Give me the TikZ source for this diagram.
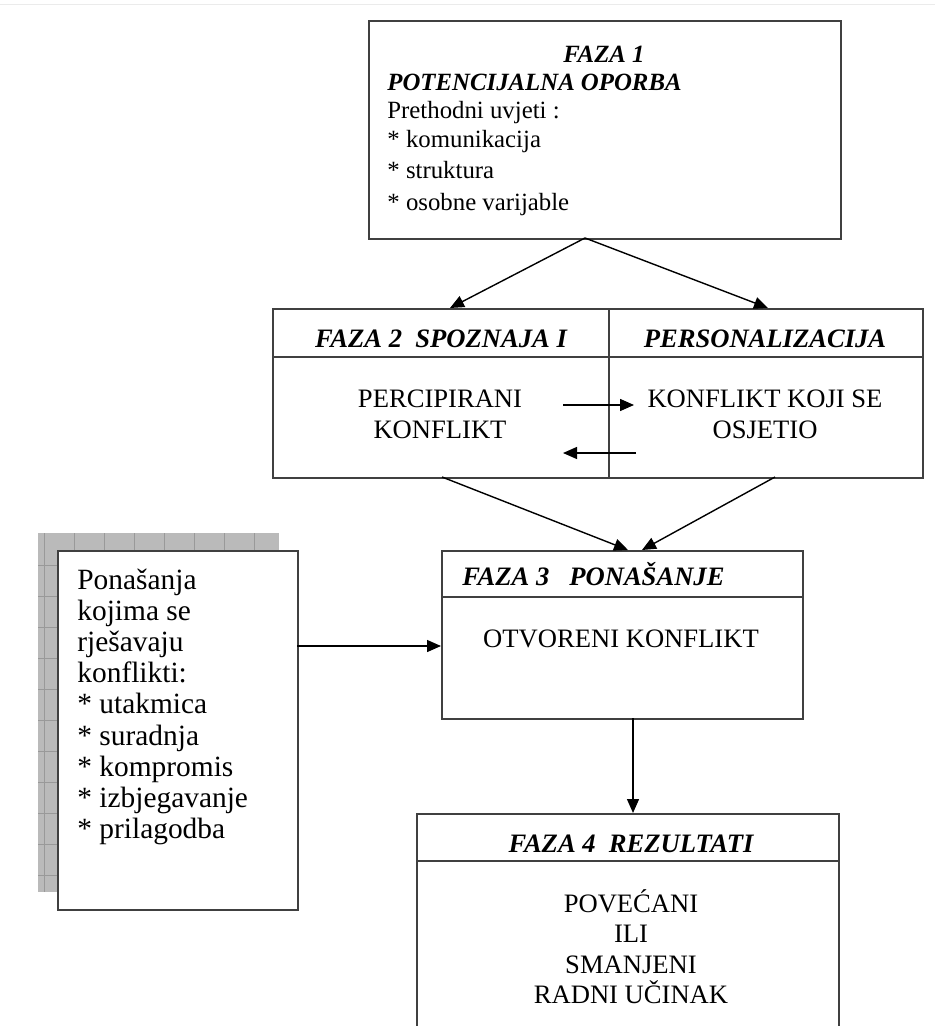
\documentclass[tikz,border=0pt]{standalone}
\usepackage{fontspec}
\setmainfont{Liberation Serif}
\usetikzlibrary{positioning, shapes, arrows, arrows.meta}

\tikzset{
  box/.style={draw=black!75, line width=1pt, anchor=north west, inner sep=0pt, fill=white},
  rule/.style={draw=black!75, line width=1pt},
  head/.style={font=\fontsize{13.3}{15}\selectfont\bfseries\itshape, anchor=base, inner sep=0pt},
  txt/.style={anchor=base, inner sep=0pt},
  ltxt/.style={anchor=base west, inner sep=0pt},
  link/.style={-{Triangle[length=7pt,width=6pt]}, line width=0.7pt},
  shade/.style={fill=black!27, draw=none},
  gridline/.style={draw=black!40, line width=0.5pt},
}

\begin{document}
\begin{tikzpicture}[x=0.5pt, y=-0.5pt, font=\fontsize{13.3}{15}\selectfont]
\useasboundingbox (0,0) rectangle (935,1026);
\clip (0,0) rectangle (935,1026);
\draw[black!8] (0,4) -- (935,4);

% faza 1
\node[box, minimum width=236pt, minimum height=109pt] (f1) at (368,20) {};
\begin{scope}[font=\fontsize{12.4}{14}\selectfont]
\node[head, font=\fontsize{12.4}{14}\selectfont\bfseries\itshape] (f1h) at (604,63) {FAZA 1};
\node[head, font=\fontsize{12.4}{14}\selectfont\bfseries\itshape, anchor=base west] (f1s) at (387,91) {POTENCIJALNA OPORBA};
\node[ltxt] (f1a) at (387,119) {Prethodni uvjeti :};
\node[ltxt] (f1b) at (387,148) {* komunikacija};
\node[ltxt] (f1c) at (387,179) {* struktura};
\node[ltxt] (f1d) at (387,211) {* osobne varijable};
\end{scope}

% faza 2
\node[box, minimum width=325pt, minimum height=84.5pt] (f2) at (272,308) {};
\draw[rule] (272,357) -- (922,357);
\draw[rule] (609,308) -- (609,477);
\node[head] (f2h) at (441,347) {FAZA 2~~SPOZNAJA I};
\node[head] (f2p) at (765,347) {PERSONALIZACIJA};
\node[txt] (perc) at (440,407) {PERCIPIRANI};
\node[txt] (perk) at (440,438) {KONFLIKT};
\node[txt] (osj) at (765,407) {KONFLIKT KOJI SE};
\node[txt] (osk) at (765,438) {OSJETIO};

% faza 3
\node[box, minimum width=180.5pt, minimum height=84pt] (f3) at (441,550) {};
\draw[rule] (441,597) -- (802,597);
\node[head, anchor=base west] (f3h) at (462,585) {FAZA 3~~~PONAŠANJE};
\node[txt] (otv) at (621,647) {OTVORENI KONFLIKT};

% faza 4
\node[box, minimum width=211pt, minimum height=120pt] (f4) at (416,813) {};
\draw[rule] (416,861) -- (838,861);
\node[head] (f4h) at (631,852) {FAZA 4~~REZULTATI};
\node[txt] (r1) at (631,912) {POVEĆANI};
\node[txt] (r2) at (631,942) {ILI};
\node[txt] (r3) at (631,973) {SMANJENI};
\node[txt] (r4) at (631,1003) {RADNI UČINAK};

% ponasanja
\fill[shade] (38,533) rectangle (279,892);
\foreach \gx in {44,74,...,274} \draw[gridline] (\gx,533) -- (\gx,892);
\foreach \gy in {565,596,...,892} \draw[gridline] (38,\gy) -- (279,\gy);
\node[box, minimum width=120pt, minimum height=179.5pt] (pon) at (57,550) {};
\begin{scope}[font=\fontsize{14.7}{16}\selectfont]
\node[ltxt] (p1) at (77,589) {Ponašanja};
\node[ltxt] (p2) at (77,620) {kojima se};
\node[ltxt] (p3) at (77,651) {rješavaju};
\node[ltxt] (p4) at (77,682) {konflikti:};
\node[ltxt] (p5) at (77,713) {* utakmica};
\node[ltxt] (p6) at (77,745) {* suradnja};
\node[ltxt] (p7) at (77,776) {* kompromis};
\node[ltxt] (p8) at (77,807) {* izbjegavanje};
\node[ltxt] (p9) at (77,838) {* prilagodba};
\end{scope}

% arrows
\coordinate (a0) at (585,238);
\coordinate (a1) at (450,308);
\coordinate (a2) at (768,308);
\draw[link] (a0) -- (a1);
\draw[link] (a0) -- (a2);

\coordinate (b1) at (563,405);
\coordinate (b2) at (634,405);
\coordinate (b3) at (636,453);
\coordinate (b4) at (563,453);
\draw[link] (b1) -- (b2);
\draw[link] (b3) -- (b4);

\coordinate (c1) at (442,477);
\coordinate (c2) at (628,550);
\coordinate (c3) at (775,477);
\coordinate (c4) at (642,550);
\draw[link] (c1) -- (c2);
\draw[link] (c3) -- (c4);

\coordinate (d1) at (297,646);
\coordinate (d2) at (441,646);
\draw[link] (d1) -- (d2);

\coordinate (e1) at (633,718);
\coordinate (e2) at (633,813);
\draw[link] (e1) -- (e2);
\end{tikzpicture}
\end{document}
